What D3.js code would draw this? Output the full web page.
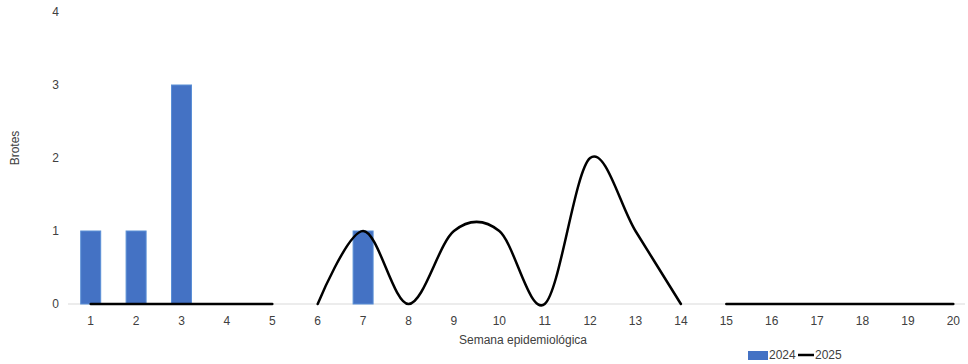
<!DOCTYPE html>
<html>
  <head>
    <meta charset="utf-8">
    <title>Brotes por semana epidemiológica</title>
    <script src="https://d3js.org/d3.v7.min.js"></script>
    <style>
      body { margin: 0; background: #fff; }
      text { font-family: "Liberation Sans", Arial, sans-serif; fill: #404040; }
    </style>
  </head>
  <body>
    <div id="chart"></div>
    <script>
      // data
      const weeks = d3.range(1, 21);
      const values2024 = [1, 1, 3, 0, 0, 0, 1, 0, 0, 0, 0, 0, 0, 0, 0, 0, 0, 0, 0, 0];
      const values2025 = [0, 0, 0, 0, 0, 0, 1, 0, 1, 1, 0, 2, 1, 0, 0, 0, 0, 0, 0, 0];
      // the 2025 line is broken after these weeks
      const breaksAfter = [5, 14];
      const yTicks = [0, 1, 2, 3, 4];

      const width = 968, height = 364;
      const svg = d3.select("#chart").append("svg")
        .attr("width", width)
        .attr("height", height);

      // scales
      const x = d3.scaleBand()
        .domain(weeks)
        .range([68, 976]);
      const y = d3.scaleLinear()
        .domain([0, 4])
        .range([304, 12]);
      const cx = function(d) { return x(d) + x.bandwidth() / 2; };

      // y axis labels
      svg.append("g")
        .attr("transform", "translate(59,0)")
        .call(d3.axisLeft(y).tickValues(yTicks).tickFormat(d3.format("d")).tickSize(0).tickPadding(0))
        .call(function(g) { g.select(".domain").remove(); })
        .selectAll("text")
          .style("font-size", "12px")
          .attr("fill", "#404040");

      // baseline
      svg.append("line")
        .attr("x1", 68).attr("x2", 965)
        .attr("y1", y(0)).attr("y2", y(0))
        .attr("stroke", "#d9d9d9")
        .attr("stroke-width", 1);

      // x axis labels
      svg.append("g")
        .attr("transform", "translate(0," + y(0) + ")")
        .call(d3.axisBottom(x).tickSize(0).tickPadding(12))
        .call(function(g) { g.select(".domain").remove(); })
        .selectAll("text")
          .style("font-size", "12px")
          .attr("fill", "#404040");

      // bars 2024
      const barW = 20;
      svg.selectAll(".bar")
          .data(weeks.filter(function(d, i) { return values2024[i] > 0; }))
        .enter().append("rect")
          .classed("bar", true)
          .attr("x", function(d) { return cx(d) - barW / 2; })
          .attr("y", function(d) { return y(values2024[d - 1]); })
          .attr("width", barW)
          .attr("height", function(d) { return y(0) - y(values2024[d - 1]); })
          .attr("fill", "#4472c4")
          .attr("stroke", "#5b8fd6")
          .attr("stroke-width", 1);

      // line 2025, split into segments
      const points = weeks.map(function(d, i) { return [d, values2025[i]]; });
      const segments = [];
      let current = [];
      points.forEach(function(p) {
        current.push(p);
        if (breaksAfter.indexOf(p[0]) >= 0) { segments.push(current); current = []; }
      });
      if (current.length) segments.push(current);

      const line = d3.line()
        .x(function(p) { return cx(p[0]); })
        .y(function(p) { return y(p[1]); })
        .curve(d3.curveCardinal.tension(0));

      svg.selectAll(".line2025")
          .data(segments)
        .enter().append("path")
          .classed("line2025", true)
          .attr("d", line)
          .attr("fill", "none")
          .attr("stroke", "#000")
          .attr("stroke-width", 2.5)
          .attr("stroke-linecap", "round");

      // axis titles
      svg.append("text")
        .attr("transform", "translate(19,148) rotate(-90)")
        .attr("text-anchor", "middle")
        .style("font-size", "12px")
        .text("Brotes");
      svg.append("text")
        .attr("x", 523)
        .attr("y", 344)
        .attr("text-anchor", "middle")
        .style("font-size", "12px")
        .text("Semana epidemiológica");

      // legend
      const legend = svg.append("g").attr("transform", "translate(748,355)");
      legend.append("rect")
        .attr("x", 0).attr("y", -4)
        .attr("width", 20).attr("height", 9)
        .attr("fill", "#4472c4");
      legend.append("text")
        .attr("x", 21).attr("y", 4)
        .style("font-size", "12px")
        .text("2024");
      legend.append("line")
        .attr("x1", 50).attr("x2", 66)
        .attr("y1", 0).attr("y2", 0)
        .attr("stroke", "#000")
        .attr("stroke-width", 2.5);
      legend.append("text")
        .attr("x", 67).attr("y", 4)
        .style("font-size", "12px")
        .text("2025");
    </script>
  </body>
</html>
